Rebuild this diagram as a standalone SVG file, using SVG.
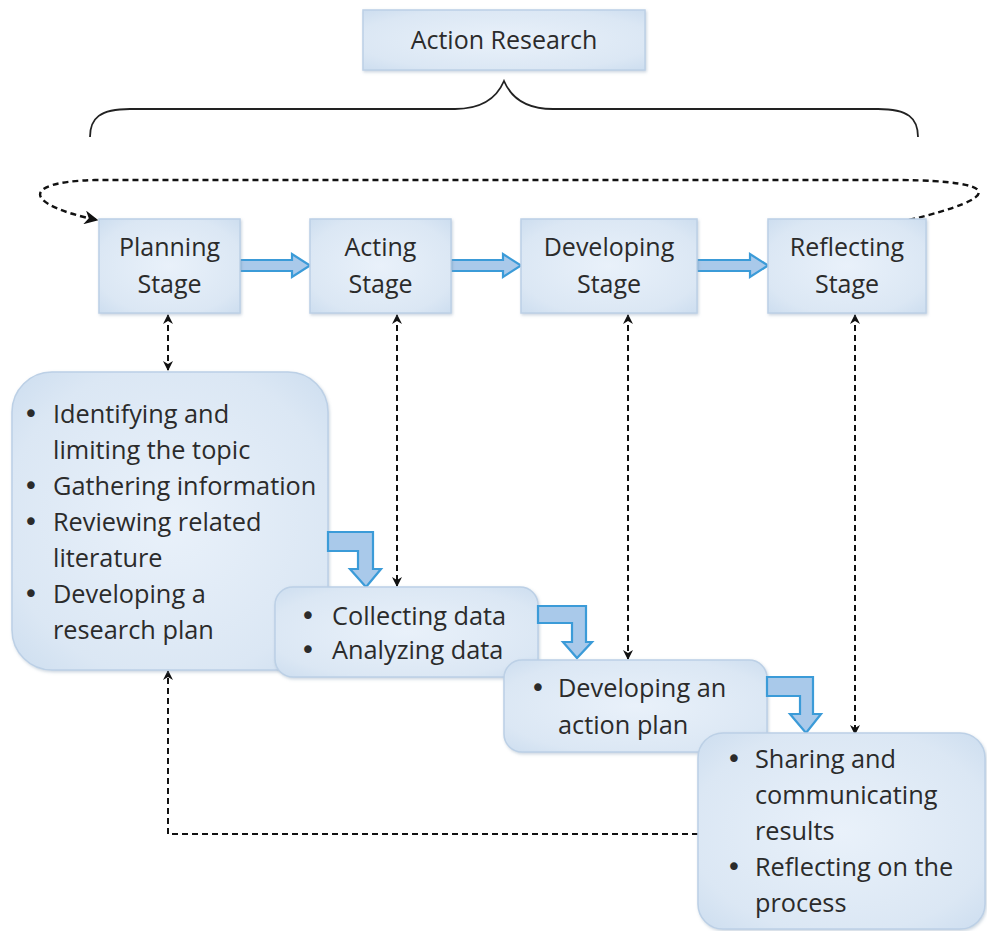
<svg xmlns="http://www.w3.org/2000/svg" width="987" height="931" viewBox="0 0 987 931">
<defs>
<radialGradient id="g" cx="50%" cy="50%" r="75%">
<stop offset="0%" stop-color="#e9f1fa"/>
<stop offset="70%" stop-color="#dbe7f4"/>
<stop offset="100%" stop-color="#c9dbee"/>
</radialGradient>
<filter id="sh" x="-10%" y="-10%" width="120%" height="120%">
<feDropShadow dx="1" dy="1.5" stdDeviation="1.5" flood-color="#8aa0b8" flood-opacity="0.45"/>
</filter>
<marker id="ah" viewBox="0 0 10 10" refX="9" refY="5" markerWidth="10" markerHeight="10" orient="auto-start-reverse" markerUnits="userSpaceOnUse">
<path d="M0,0 L10,5 L0,10 L3,5 Z" fill="#111"/>
</marker>
<marker id="ah2" viewBox="0 0 10 10" refX="9" refY="5" markerWidth="14" markerHeight="14" orient="auto-start-reverse" markerUnits="userSpaceOnUse">
<path d="M0,0 L10,5 L0,10 L3,5 Z" fill="#111"/>
</marker>
</defs>
<style>
.box{fill:url(#g);stroke:#bcd0e6;stroke-width:1.5;filter:url(#sh)}
.t{font-family:"Open Sans","Liberation Sans",sans-serif;font-size:25.3px;fill:#2b2b2b}
.s{font-size:25px}
.b{font-family:"DejaVu Sans",sans-serif;font-size:26px;fill:#2b2b2b;text-anchor:middle}
.c{text-anchor:middle}
.dash{fill:none;stroke:#111;stroke-width:2;stroke-dasharray:6 4}
.ba{fill:#a9c9ea;stroke:#3b9bd8;stroke-width:2.2;stroke-linejoin:miter}
.brace{fill:none;stroke:#222;stroke-width:1.8}
</style>
<rect width="987" height="931" fill="#fff"/>

<g id="action-research">
<rect class="box" x="363" y="10" width="282" height="60"/>
<text class="t s c" x="504" y="49">Action Research</text>
</g>
<g id="brace">
<path class="brace" d="M90,137 C90,118 100,109 130,109 L455,109 C485,109 498,95 504,81 C510,95 523,109 553,109 L878,109 C908,109 918,118 918,137"/>
</g>

<g id="connectors">
<path class="dash" style="stroke-width:2.4" marker-end="url(#ah2)" d="M909,220 C1005,197 1002,181 900,180 L95,180 C18,182 25,205 97,220"/>
<line class="dash" x1="168" y1="315" x2="168" y2="370" marker-start="url(#ah)" marker-end="url(#ah)"/>
<line class="dash" x1="397" y1="315" x2="397" y2="586" marker-start="url(#ah)" marker-end="url(#ah)"/>
<line class="dash" x1="628" y1="315" x2="628" y2="659" marker-start="url(#ah)" marker-end="url(#ah)"/>
<line class="dash" x1="855" y1="315" x2="855" y2="734" marker-start="url(#ah)" marker-end="url(#ah)"/>
<path class="dash" marker-end="url(#ah)" d="M698,834 L168,834 L168,671"/>
<path class="ba" d="M240,260 L292,260 L292,254 L310,265.5 L292,277 L292,271 L240,271 Z"/>
<path class="ba" d="M451,260 L503,260 L503,254 L521,265.5 L503,277 L503,271 L451,271 Z"/>
<path class="ba" d="M697,260 L750,260 L750,254 L768,265.5 L750,277 L750,271 L697,271 Z"/>
</g>

<g id="planning-stage">
<rect class="box" x="99" y="219" width="141" height="94"/>
<text class="t s c" x="169.5" y="256">Planning</text>
<text class="t s c" x="169.5" y="293">Stage</text>
</g>
<g id="acting-stage">
<rect class="box" x="310" y="219" width="141" height="94"/>
<text class="t s c" x="380.5" y="256">Acting</text>
<text class="t s c" x="380.5" y="293">Stage</text>
</g>
<g id="developing-stage">
<rect class="box" x="521" y="219" width="176" height="94"/>
<text class="t s c" x="609" y="256">Developing</text>
<text class="t s c" x="609" y="293">Stage</text>
</g>
<g id="reflecting-stage">
<rect class="box" x="768" y="219" width="158" height="94"/>
<text class="t s c" x="847" y="256">Reflecting</text>
<text class="t s c" x="847" y="293">Stage</text>
</g>

<g id="planning-tasks">
<rect class="box" x="12" y="372" width="316" height="298" rx="40" ry="40"/>
<text class="b" x="31" y="423">•</text><text class="t" x="53" y="423">Identifying and</text>
<text class="t" x="53" y="459">limiting the topic</text>
<text class="b" x="31" y="495">•</text><text class="t" x="53" y="495">Gathering information</text>
<text class="b" x="31" y="531">•</text><text class="t" x="53" y="531">Reviewing related</text>
<text class="t" x="53" y="567">literature</text>
<text class="b" x="31" y="603">•</text><text class="t" x="53" y="603">Developing a</text>
<text class="t" x="53" y="639">research plan</text>
</g>
<g id="bend-arrow-1">
<path class="ba" d="M328,532 L373,532 L373,569 L381,569 L366,587 L350,569 L358,569 L358,551 L328,551 Z"/>
</g>
<g id="acting-tasks">
<rect class="box" x="275" y="587" width="263" height="90" rx="18" ry="18"/>
<text class="b" x="308" y="625">•</text><text class="t" x="332" y="625">Collecting data</text>
<text class="b" x="308" y="659">•</text><text class="t" x="332" y="659">Analyzing data</text>
</g>
<g id="bend-arrow-2">
<path class="ba" d="M538,606 L586,606 L586,642 L592,642 L577,658 L563,642 L572,642 L572,623 L538,623 Z"/>
</g>
<g id="developing-tasks">
<rect class="box" x="504" y="660" width="263" height="92" rx="18" ry="18"/>
<text class="b" x="538" y="697">•</text><text class="t" x="558" y="697">Developing an</text>
<text class="t" x="558" y="734">action plan</text>
</g>
<g id="bend-arrow-3">
<path class="ba" d="M767,677 L813,677 L813,714 L821,714 L806,733 L790,714 L800,714 L800,696 L767,696 Z"/>
</g>
<g id="reflecting-tasks">
<rect class="box" x="698" y="733" width="287" height="196" rx="25" ry="25"/>
<text class="b" x="734" y="768">•</text><text class="t" x="755" y="768">Sharing and</text>
<text class="t" x="755" y="804">communicating</text>
<text class="t" x="755" y="840">results</text>
<text class="b" x="734" y="876">•</text><text class="t" x="755" y="876">Reflecting on the</text>
<text class="t" x="755" y="912">process</text>
</g>
</svg>
